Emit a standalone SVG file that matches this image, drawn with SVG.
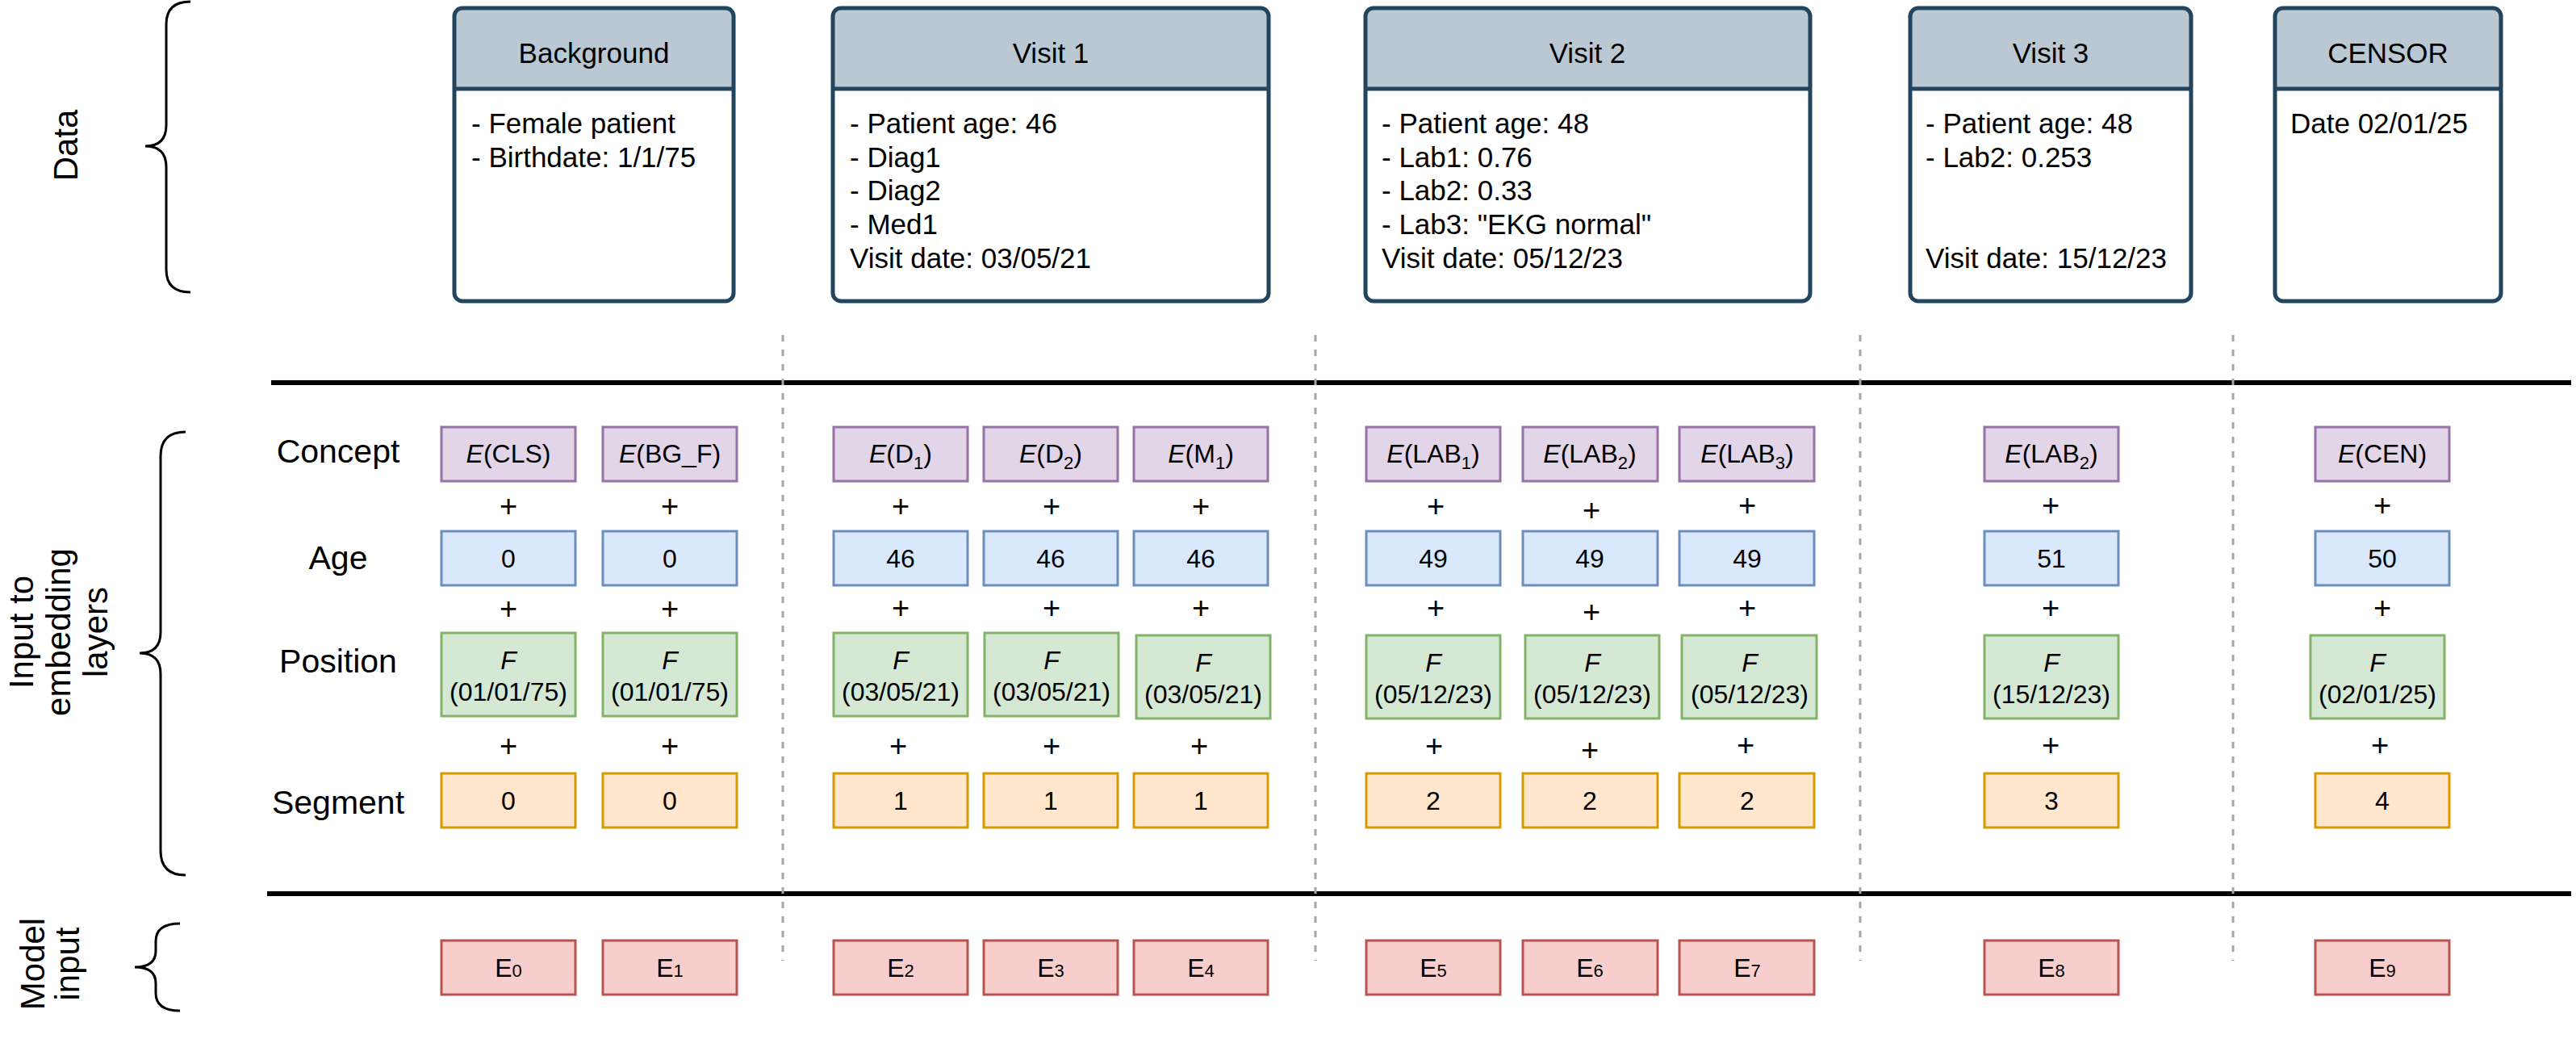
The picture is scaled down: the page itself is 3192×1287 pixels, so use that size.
<svg xmlns="http://www.w3.org/2000/svg" width="3192" height="1287" viewBox="0 0 3192 1287">
<style>
text{font-family:"Liberation Sans",Arial,Helvetica,sans-serif;fill:#000}
.vb{fill:#fff;stroke:none}
.vh{fill:#BAC8D3;stroke:none}
.vo{fill:none;stroke:#23445D;stroke-width:5}
.vt{font-size:35px}
.hd{font-size:35px;text-anchor:middle}
.lbl{font-size:41px;text-anchor:middle}
.side{font-size:42px;text-anchor:middle}
.bt{font-size:32px;text-anchor:middle}
.pl{font-size:38px;text-anchor:middle}
.sub{font-size:22px}
.i{font-style:italic}
.con{fill:#E1D5E7;stroke:#9673A6;stroke-width:3}
.age{fill:#DAE8FC;stroke:#6C8EBF;stroke-width:3}
.pos{fill:#D5E8D4;stroke:#82B366;stroke-width:3}
.seg{fill:#FFE6CC;stroke:#D79B00;stroke-width:3}
.mi{fill:#F8CECC;stroke:#B85450;stroke-width:3}
.brace{fill:none;stroke:#000;stroke-width:3}
.rule{stroke:#000;stroke-width:6}
.dash{stroke:#A6A6A6;stroke-width:3;stroke-dasharray:8 10}
</style>
<rect width="3192" height="1287" fill="#fff"/>

<g id="side-labels">
<text class="side" transform="translate(96,180) rotate(-90)">Data</text>
<text class="side" transform="translate(41,783) rotate(-90)">Input to</text>
<text class="side" transform="translate(87,783) rotate(-90)">embedding</text>
<text class="side" transform="translate(133,783) rotate(-90)">layers</text>
<text class="side" transform="translate(55,1194) rotate(-90)">Model</text>
<text class="side" transform="translate(98,1194) rotate(-90)">input</text>
</g>

<g id="braces">
<path class="brace" d="M236,2 Q206,2 206,30 L206,155 Q206,181 180,181 Q206,181 206,207 L206,334 Q206,362 236,362"/>
<path class="brace" d="M230,535 Q199,535 199,565 L199,783 Q199,809 173,809 Q199,809 199,835 L199,1054 Q199,1084 230,1084"/>
<path class="brace" d="M223,1144 Q193,1144 193,1166 L193,1178 Q193,1198 167,1198 Q193,1198 193,1218 L193,1230 Q193,1252 223,1252"/>
</g>

<g id="rules">
<line class="rule" x1="336" y1="474" x2="3186" y2="474"/>
<line class="rule" x1="331" y1="1107" x2="3186" y2="1107"/>
</g>

<g id="separators">
<line class="dash" x1="970" y1="415" x2="970" y2="1190"/>
<line class="dash" x1="1630" y1="415" x2="1630" y2="1190"/>
<line class="dash" x1="2305" y1="415" x2="2305" y2="1190"/>
<line class="dash" x1="2767" y1="415" x2="2767" y2="1190"/>
</g>

<g id="visit-background">
<rect class="vb" x="563" y="10" width="346" height="363" rx="10"/>
<path class="vh" d="M563,110 V20 Q563,10 573,10 H899 Q909,10 909,20 V110 Z"/>
<line x1="563" y1="110" x2="909" y2="110" stroke="#23445D" stroke-width="5"/>
<rect class="vo" x="563" y="10" width="346" height="363" rx="10"/>
<text class="hd" x="736" y="78">Background</text>
<text class="vt" x="584" y="165">- Female patient</text>
<text class="vt" x="584" y="207">- Birthdate: 1/1/75</text>
</g>

<g id="visit-1">
<rect class="vb" x="1032" y="10" width="540" height="363" rx="10"/>
<path class="vh" d="M1032,110 V20 Q1032,10 1042,10 H1562 Q1572,10 1572,20 V110 Z"/>
<line x1="1032" y1="110" x2="1572" y2="110" stroke="#23445D" stroke-width="5"/>
<rect class="vo" x="1032" y="10" width="540" height="363" rx="10"/>
<text class="hd" x="1302" y="78">Visit 1</text>
<text class="vt" x="1053" y="165">- Patient age: 46</text>
<text class="vt" x="1053" y="207">- Diag1</text>
<text class="vt" x="1053" y="248">- Diag2</text>
<text class="vt" x="1053" y="290">- Med1</text>
<text class="vt" x="1053" y="332">Visit date: 03/05/21</text>
</g>

<g id="visit-2">
<rect class="vb" x="1692" y="10" width="551" height="363" rx="10"/>
<path class="vh" d="M1692,110 V20 Q1692,10 1702,10 H2233 Q2243,10 2243,20 V110 Z"/>
<line x1="1692" y1="110" x2="2243" y2="110" stroke="#23445D" stroke-width="5"/>
<rect class="vo" x="1692" y="10" width="551" height="363" rx="10"/>
<text class="hd" x="1967" y="78">Visit 2</text>
<text class="vt" x="1712" y="165">- Patient age: 48</text>
<text class="vt" x="1712" y="207">- Lab1: 0.76</text>
<text class="vt" x="1712" y="248">- Lab2: 0.33</text>
<text class="vt" x="1712" y="290">- Lab3: "EKG normal"</text>
<text class="vt" x="1712" y="332">Visit date: 05/12/23</text>
</g>

<g id="visit-3">
<rect class="vb" x="2367" y="10" width="348" height="363" rx="10"/>
<path class="vh" d="M2367,110 V20 Q2367,10 2377,10 H2705 Q2715,10 2715,20 V110 Z"/>
<line x1="2367" y1="110" x2="2715" y2="110" stroke="#23445D" stroke-width="5"/>
<rect class="vo" x="2367" y="10" width="348" height="363" rx="10"/>
<text class="hd" x="2541" y="78">Visit 3</text>
<text class="vt" x="2386" y="165">- Patient age: 48</text>
<text class="vt" x="2386" y="207">- Lab2: 0.253</text>
<text class="vt" x="2386" y="332">Visit date: 15/12/23</text>
</g>

<g id="censor">
<rect class="vb" x="2819" y="10" width="280" height="363" rx="10"/>
<path class="vh" d="M2819,110 V20 Q2819,10 2829,10 H3089 Q3099,10 3099,20 V110 Z"/>
<line x1="2819" y1="110" x2="3099" y2="110" stroke="#23445D" stroke-width="5"/>
<rect class="vo" x="2819" y="10" width="280" height="363" rx="10"/>
<text class="hd" x="2959" y="78">CENSOR</text>
<text class="vt" x="2838" y="165">Date 02/01/25</text>
</g>

<g id="row-labels">
<text class="lbl" x="419" y="573">Concept</text>
<text class="lbl" x="419" y="705">Age</text>
<text class="lbl" x="419" y="833">Position</text>
<text class="lbl" x="419" y="1008">Segment</text>
</g>

<g id="col-0">
<rect class="con" x="547" y="529" width="166" height="67"/>
<text class="bt" x="630" y="573"><tspan class="i">E</tspan>(CLS)</text>
<text class="pl" x="630" y="640">+</text>
<rect class="age" x="547" y="658" width="166" height="67"/>
<text class="bt" x="630" y="703">0</text>
<text class="pl" x="630" y="767">+</text>
<rect class="pos" x="547" y="784" width="166" height="103"/>
<text class="bt i" x="630" y="829">F</text>
<text class="bt" x="630" y="868">(01/01/75)</text>
<text class="pl" x="630" y="937">+</text>
<rect class="seg" x="547" y="958" width="166" height="67"/>
<text class="bt" x="630" y="1003">0</text>
<rect class="mi" x="547" y="1165" width="166" height="67"/>
<text class="bt" x="630" y="1210">E<tspan class="sub">0</tspan></text>
</g>

<g id="col-1">
<rect class="con" x="747" y="529" width="166" height="67"/>
<text class="bt" x="830" y="573"><tspan class="i">E</tspan>(BG_F)</text>
<text class="pl" x="830" y="640">+</text>
<rect class="age" x="747" y="658" width="166" height="67"/>
<text class="bt" x="830" y="703">0</text>
<text class="pl" x="830" y="767">+</text>
<rect class="pos" x="747" y="784" width="166" height="103"/>
<text class="bt i" x="830" y="829">F</text>
<text class="bt" x="830" y="868">(01/01/75)</text>
<text class="pl" x="830" y="937">+</text>
<rect class="seg" x="747" y="958" width="166" height="67"/>
<text class="bt" x="830" y="1003">0</text>
<rect class="mi" x="747" y="1165" width="166" height="67"/>
<text class="bt" x="830" y="1210">E<tspan class="sub">1</tspan></text>
</g>

<g id="col-2">
<rect class="con" x="1033" y="529" width="166" height="67"/>
<text class="bt" x="1116" y="573"><tspan class="i">E</tspan>(D<tspan class="sub" dy="8">1</tspan><tspan dy="-8">)</tspan></text>
<text class="pl" x="1116" y="640">+</text>
<rect class="age" x="1033" y="658" width="166" height="67"/>
<text class="bt" x="1116" y="703">46</text>
<text class="pl" x="1116" y="766">+</text>
<rect class="pos" x="1033" y="784" width="166" height="103"/>
<text class="bt i" x="1116" y="829">F</text>
<text class="bt" x="1116" y="868">(03/05/21)</text>
<text class="pl" x="1113" y="937">+</text>
<rect class="seg" x="1033" y="958" width="166" height="67"/>
<text class="bt" x="1116" y="1003">1</text>
<rect class="mi" x="1033" y="1165" width="166" height="67"/>
<text class="bt" x="1116" y="1210">E<tspan class="sub">2</tspan></text>
</g>

<g id="col-3">
<rect class="con" x="1219" y="529" width="166" height="67"/>
<text class="bt" x="1302" y="573"><tspan class="i">E</tspan>(D<tspan class="sub" dy="8">2</tspan><tspan dy="-8">)</tspan></text>
<text class="pl" x="1303" y="640">+</text>
<rect class="age" x="1219" y="658" width="166" height="67"/>
<text class="bt" x="1302" y="703">46</text>
<text class="pl" x="1303" y="766">+</text>
<rect class="pos" x="1220" y="784" width="166" height="103"/>
<text class="bt i" x="1303" y="829">F</text>
<text class="bt" x="1303" y="868">(03/05/21)</text>
<text class="pl" x="1303" y="937">+</text>
<rect class="seg" x="1219" y="958" width="166" height="67"/>
<text class="bt" x="1302" y="1003">1</text>
<rect class="mi" x="1219" y="1165" width="166" height="67"/>
<text class="bt" x="1302" y="1210">E<tspan class="sub">3</tspan></text>
</g>

<g id="col-4">
<rect class="con" x="1405" y="529" width="166" height="67"/>
<text class="bt" x="1488" y="573"><tspan class="i">E</tspan>(M<tspan class="sub" dy="8">1</tspan><tspan dy="-8">)</tspan></text>
<text class="pl" x="1488" y="640">+</text>
<rect class="age" x="1405" y="658" width="166" height="67"/>
<text class="bt" x="1488" y="703">46</text>
<text class="pl" x="1488" y="766">+</text>
<rect class="pos" x="1408" y="787" width="166" height="103"/>
<text class="bt i" x="1491" y="832">F</text>
<text class="bt" x="1491" y="871">(03/05/21)</text>
<text class="pl" x="1486" y="937">+</text>
<rect class="seg" x="1405" y="958" width="166" height="67"/>
<text class="bt" x="1488" y="1003">1</text>
<rect class="mi" x="1405" y="1165" width="166" height="67"/>
<text class="bt" x="1488" y="1210">E<tspan class="sub">4</tspan></text>
</g>

<g id="col-5">
<rect class="con" x="1693" y="529" width="166" height="67"/>
<text class="bt" x="1776" y="573"><tspan class="i">E</tspan>(LAB<tspan class="sub" dy="8">1</tspan><tspan dy="-8">)</tspan></text>
<text class="pl" x="1779" y="640">+</text>
<rect class="age" x="1693" y="658" width="166" height="67"/>
<text class="bt" x="1776" y="703">49</text>
<text class="pl" x="1779" y="766">+</text>
<rect class="pos" x="1693" y="787" width="166" height="103"/>
<text class="bt i" x="1776" y="832">F</text>
<text class="bt" x="1776" y="871">(05/12/23)</text>
<text class="pl" x="1777" y="937">+</text>
<rect class="seg" x="1693" y="958" width="166" height="67"/>
<text class="bt" x="1776" y="1003">2</text>
<rect class="mi" x="1693" y="1165" width="166" height="67"/>
<text class="bt" x="1776" y="1210">E<tspan class="sub">5</tspan></text>
</g>

<g id="col-6">
<rect class="con" x="1887" y="529" width="167" height="67"/>
<text class="bt" x="1970" y="573"><tspan class="i">E</tspan>(LAB<tspan class="sub" dy="8">2</tspan><tspan dy="-8">)</tspan></text>
<text class="pl" x="1972" y="645">+</text>
<rect class="age" x="1887" y="658" width="167" height="67"/>
<text class="bt" x="1970" y="703">49</text>
<text class="pl" x="1972" y="771">+</text>
<rect class="pos" x="1890" y="787" width="166" height="103"/>
<text class="bt i" x="1973" y="832">F</text>
<text class="bt" x="1973" y="871">(05/12/23)</text>
<text class="pl" x="1970" y="942">+</text>
<rect class="seg" x="1887" y="958" width="167" height="67"/>
<text class="bt" x="1970" y="1003">2</text>
<rect class="mi" x="1887" y="1165" width="167" height="67"/>
<text class="bt" x="1970" y="1210">E<tspan class="sub">6</tspan></text>
</g>

<g id="col-7">
<rect class="con" x="2081" y="529" width="167" height="67"/>
<text class="bt" x="2165" y="573"><tspan class="i">E</tspan>(LAB<tspan class="sub" dy="8">3</tspan><tspan dy="-8">)</tspan></text>
<text class="pl" x="2165" y="639">+</text>
<rect class="age" x="2081" y="658" width="167" height="67"/>
<text class="bt" x="2165" y="703">49</text>
<text class="pl" x="2165" y="766">+</text>
<rect class="pos" x="2084" y="787" width="167" height="103"/>
<text class="bt i" x="2168" y="832">F</text>
<text class="bt" x="2168" y="871">(05/12/23)</text>
<text class="pl" x="2163" y="936">+</text>
<rect class="seg" x="2081" y="958" width="167" height="67"/>
<text class="bt" x="2165" y="1003">2</text>
<rect class="mi" x="2081" y="1165" width="167" height="67"/>
<text class="bt" x="2165" y="1210">E<tspan class="sub">7</tspan></text>
</g>

<g id="col-8">
<rect class="con" x="2459" y="529" width="166" height="67"/>
<text class="bt" x="2542" y="573"><tspan class="i">E</tspan>(LAB<tspan class="sub" dy="8">2</tspan><tspan dy="-8">)</tspan></text>
<text class="pl" x="2541" y="639">+</text>
<rect class="age" x="2459" y="658" width="166" height="67"/>
<text class="bt" x="2542" y="703">51</text>
<text class="pl" x="2541" y="766">+</text>
<rect class="pos" x="2459" y="787" width="166" height="103"/>
<text class="bt i" x="2542" y="832">F</text>
<text class="bt" x="2542" y="871">(15/12/23)</text>
<text class="pl" x="2541" y="936">+</text>
<rect class="seg" x="2459" y="958" width="166" height="67"/>
<text class="bt" x="2542" y="1003">3</text>
<rect class="mi" x="2459" y="1165" width="166" height="67"/>
<text class="bt" x="2542" y="1210">E<tspan class="sub">8</tspan></text>
</g>

<g id="col-9">
<rect class="con" x="2869" y="529" width="166" height="67"/>
<text class="bt" x="2952" y="573"><tspan class="i">E</tspan>(CEN)</text>
<text class="pl" x="2952" y="639">+</text>
<rect class="age" x="2869" y="658" width="166" height="67"/>
<text class="bt" x="2952" y="703">50</text>
<text class="pl" x="2952" y="766">+</text>
<rect class="pos" x="2863" y="787" width="166" height="103"/>
<text class="bt i" x="2946" y="832">F</text>
<text class="bt" x="2946" y="871">(02/01/25)</text>
<text class="pl" x="2949" y="936">+</text>
<rect class="seg" x="2869" y="958" width="166" height="67"/>
<text class="bt" x="2952" y="1003">4</text>
<rect class="mi" x="2869" y="1165" width="166" height="67"/>
<text class="bt" x="2952" y="1210">E<tspan class="sub">9</tspan></text>
</g>
</svg>
